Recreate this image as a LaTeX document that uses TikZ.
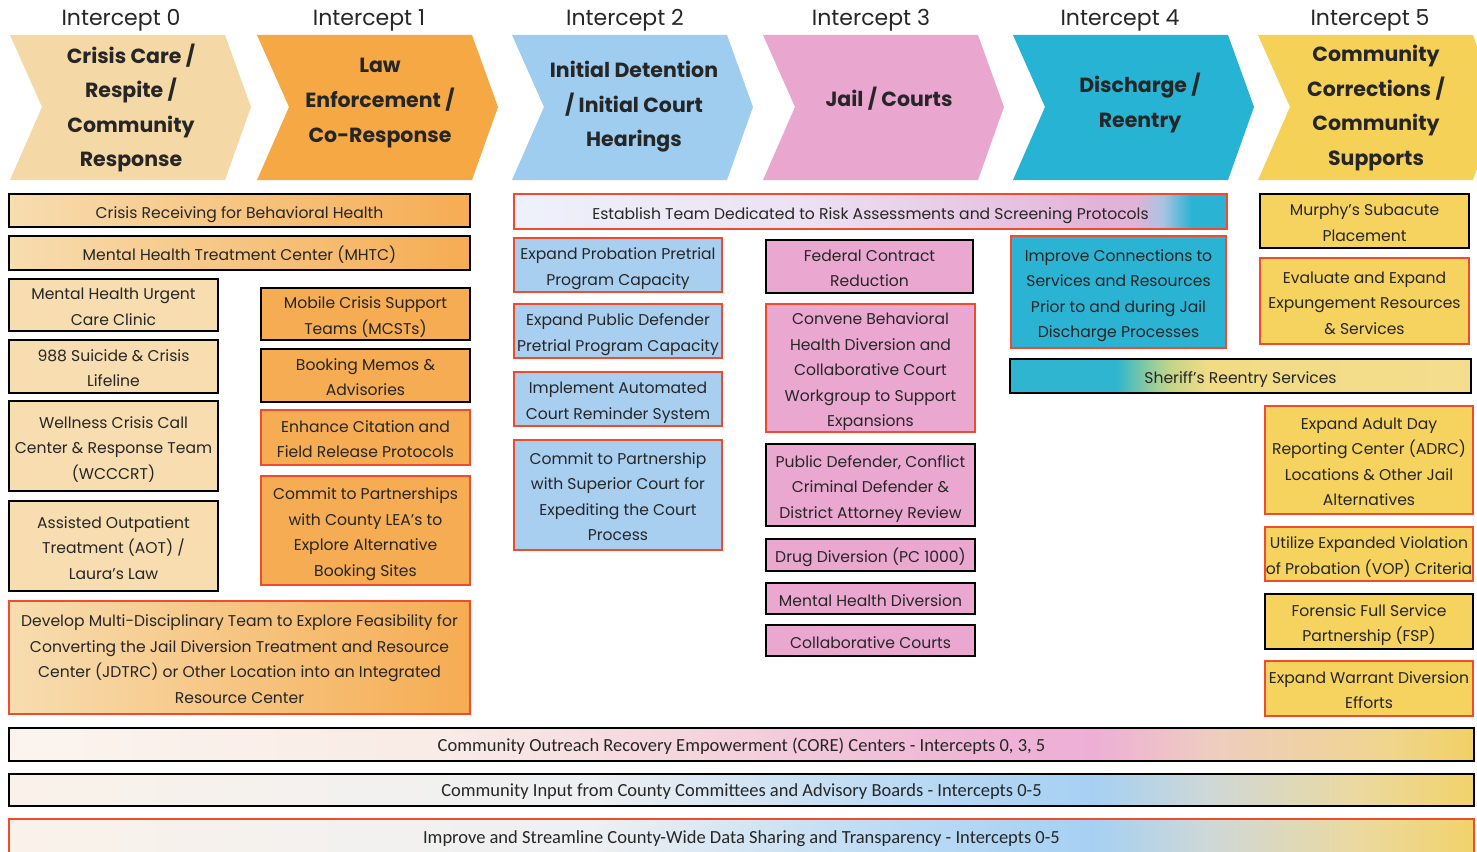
\documentclass[tikz,border=0pt]{standalone}
\usepackage{fontspec}
\setmainfont{Poppins}
\newfontfamily\barfont{Carlito}
\definecolor{txt}{HTML}{262626}
\definecolor{redB}{HTML}{EF4B2C}
\definecolor{tanF}{HTML}{F7DDB0}
\definecolor{orgF}{HTML}{F6AC52}
\definecolor{bluF}{HTML}{A8CFF0}
\definecolor{pnkF}{HTML}{EAA8D0}
\definecolor{tealF}{HTML}{2BB3D3}
\definecolor{ylwF}{HTML}{F5D35E}
\definecolor{ch0}{HTML}{F4D9A7}
\definecolor{ch1}{HTML}{F5A844}
\definecolor{ch2}{HTML}{9ECDF0}
\definecolor{ch3}{HTML}{E9A7CF}
\definecolor{ch4}{HTML}{27B3D4}
\definecolor{ch5}{HTML}{F5D257}
\definecolor{eA}{HTML}{EEF1FB}
\definecolor{eB}{HTML}{ECE2F3}
\definecolor{eC}{HTML}{E6C0E0}
\definecolor{eD}{HTML}{E3B2D8}
\definecolor{eE}{HTML}{A9C3E3}
\definecolor{sA}{HTML}{2FB5CF}
\definecolor{sB}{HTML}{8CCB9E}
\definecolor{sC}{HTML}{C4D588}
\definecolor{sD}{HTML}{F1DC84}
\definecolor{sE}{HTML}{F4DD8E}
\definecolor{kA}{HTML}{FBF4EE}
\definecolor{kB}{HTML}{F9EBE6}
\definecolor{kC}{HTML}{F4D0DC}
\definecolor{kD}{HTML}{EFB4D6}
\definecolor{kE}{HTML}{EDAFD6}
\definecolor{kF}{HTML}{EECDC0}
\definecolor{kG}{HTML}{F0D58E}
\definecolor{kH}{HTML}{F1D064}
\definecolor{bA}{HTML}{FAF2EA}
\definecolor{bB}{HTML}{EEF0F2}
\definecolor{bC}{HTML}{BCDBF4}
\definecolor{bD}{HTML}{A6D0F3}
\definecolor{bE}{HTML}{CFD8D6}
\definecolor{bF}{HTML}{EBD9A0}
\definecolor{bG}{HTML}{F2D26A}
\pgfdeclarehorizontalshading{estab}{100bp}{color(0bp)=(eA); color(25bp)=(eA); color(45bp)=(eB); color(61bp)=(eC); color(66bp)=(eD); color(68.5bp)=(eD); color(70.5bp)=(eE); color(72.5bp)=(tealF); color(75bp)=(tealF); color(100bp)=(tealF)}
\pgfdeclarehorizontalshading{sheriffsh}{100bp}{color(0bp)=(sA); color(25bp)=(sA); color(36.5bp)=(sA); color(40bp)=(sB); color(42.5bp)=(sC); color(46.5bp)=(sD); color(75bp)=(sE); color(100bp)=(sE)}
\pgfdeclarehorizontalshading{coresh}{100bp}{color(0bp)=(kA); color(25bp)=(kA); color(40bp)=(kB); color(50bp)=(kC); color(58bp)=(kD); color(62bp)=(kE); color(66bp)=(kF); color(72bp)=(kG); color(75bp)=(kH); color(100bp)=(kH)}
\pgfdeclarehorizontalshading{inputsh}{100bp}{color(0bp)=(bA); color(25bp)=(bA); color(45bp)=(bB); color(55bp)=(bC); color(62bp)=(bD); color(66bp)=(bE); color(71bp)=(bF); color(75bp)=(bG); color(100bp)=(bG)}
\tikzset{
  box/.style={draw, line width=2.6pt, inner sep=0pt, text=txt,
    font=\fontsize{15.6}{25.5}\selectfont},
  blk/.style={draw=black},
  red/.style={draw=redB},
  gradTO/.style={left color=tanF, right color=orgF},
  bar/.style={font=\barfont\fontsize{18.5}{22}\selectfont},
  ilabel/.style={font=\fontsize{22}{26}\selectfont, text=txt},
  head/.style={font=\bfseries\fontsize{20.5}{34.6}\selectfont, align=center, text=txt},
}
\newcommand\bx[7]{\pgfmathsetmacro\mybw{#4-#2}\pgfmathsetmacro\mybh{#5-#3}%
  \node[box,#6,minimum width=\mybw pt,minimum height=\mybh pt] (#1) at ({(#2+#4)/2},{(#3+#5)/2}) {\raisebox{-2.5pt}[\height][\depth]{\begin{tabular}{@{}c@{}}#7\end{tabular}}};}
\newcommand\chev[2]{\fill[#2] (#1,35) -- ({#1+215},35) -- ({#1+241},107) -- ({#1+215},180) -- (#1,180) -- ({#1+32},107) -- cycle;}
\begin{document}
\begin{tikzpicture}[x=1pt,y=-1pt]
\useasboundingbox[fill=white] (0,0) rectangle (1477,851);
\begin{scope}
\clip (0,0) rectangle (1477,851);
% chevrons
\chev{10}{ch0}
\chev{257}{ch1}
\chev{512}{ch2}
\chev{763}{ch3}
\chev{1013}{ch4}
\chev{1258}{ch5}
\node[ilabel] (i0) at (121,20) {Intercept 0};
\node[ilabel] (i1) at (369,20) {Intercept 1};
\node[ilabel] (i2) at (625,20) {Intercept 2};
\node[ilabel] (i3) at (871,20) {Intercept 3};
\node[ilabel] (i4) at (1120,20) {Intercept 4};
\node[ilabel] (i5) at (1370,20) {Intercept 5};
\node[head] (h0) at (131,108) {Crisis Care /\\Respite /\\Community\\Response};
\node[head] (h1) at (380,103) {Law\\Enforcement /\\Co-Response};
\node[head] (h2) at (634,107) {Initial Detention\\/ Initial Court\\Hearings};
\node[head] (h3) at (889,99) {Jail / Courts};
\node[head] (h4) at (1140,103) {Discharge /\\Reentry};
\node[head] (h5) at (1376,108) {Community\\Corrections /\\Community\\Supports};
% Intercepts 0/1
\bx{crb}{9}{194}{470}{227}{blk,gradTO}{Crisis Receiving for Behavioral Health}
\bx{mhtc}{9}{236}{470}{270}{blk,gradTO}{Mental Health Treatment Center (MHTC)}
\bx{mhuc}{9}{279}{218}{331}{blk,fill=tanF}{Mental Health Urgent\\Care Clinic}
\bx{s988}{9}{340}{218}{393}{blk,fill=tanF}{988 Suicide \& Crisis\\Lifeline}
\bx{wccc}{9}{401}{218}{491}{blk,fill=tanF}{Wellness Crisis Call\\Center \& Response Team\\(WCCCRT)}
\bx{aot}{9}{501}{218}{591}{blk,fill=tanF}{Assisted Outpatient\\Treatment (AOT) /\\Laura's Law}
\bx{mcst}{261}{288}{470}{340}{blk,fill=orgF}{Mobile Crisis Support\\Teams (MCSTs)}
\bx{book}{261}{349}{470}{402}{blk,fill=orgF}{Booking Memos \&\\Advisories}
\bx{cite}{261}{410}{470}{465}{red,fill=orgF}{Enhance Citation and\\Field Release Protocols}
\bx{lea}{261}{476}{470}{585}{red,fill=orgF}{Commit to Partnerships\\with County LEA's to\\Explore Alternative\\Booking Sites}
\bx{mdt}{9}{601}{470}{714}{red,gradTO}{Develop Multi-Disciplinary Team to Explore Feasibility for\\Converting the Jail Diversion Treatment and Resource\\Center (JDTRC) or Other Location into an Integrated\\Resource Center}
% Intercept 2
\bx{risk}{514}{194}{1227}{229}{red,shade,shading=estab}{Establish Team Dedicated to Risk Assessments and Screening Protocols}
\bx{prob}{514}{238}{722}{292}{red,fill=bluF}{Expand Probation Pretrial\\Program Capacity}
\bx{pubd}{514}{304}{722}{358}{red,fill=bluF}{Expand Public Defender\\Pretrial Program Capacity}
\bx{remind}{514}{372}{722}{426}{red,fill=bluF}{Implement Automated\\Court Reminder System}
\bx{superior}{514}{440}{722}{550}{red,fill=bluF}{Commit to Partnership\\with Superior Court for\\Expediting the Court\\Process}
% Intercept 3
\bx{fed}{766}{240}{973}{293}{blk,fill=pnkF}{Federal Contract\\Reduction}
\bx{conv}{766}{304}{975}{432}{red,fill=pnkF}{Convene Behavioral\\Health Diversion and\\Collaborative Court\\Workgroup to Support\\Expansions}
\bx{pdcc}{766}{444}{975}{526}{blk,fill=pnkF}{Public Defender, Conflict\\Criminal Defender \&\\District Attorney Review}
\bx{drug}{766}{539}{975}{571}{blk,fill=pnkF}{Drug Diversion (PC 1000)}
\bx{mhd}{766}{583}{975}{614}{blk,fill=pnkF}{Mental Health Diversion}
\bx{collab}{766}{625}{975}{656}{blk,fill=pnkF}{Collaborative Courts}
% Intercept 4
\bx{conn}{1011}{236}{1226}{348}{red,fill=tealF}{Improve Connections to\\Services and Resources\\Prior to and during Jail\\Discharge Processes}
\bx{sheriff}{1010}{359}{1471}{393}{blk,shade,shading=sheriffsh}{Sheriff's Reentry Services}
% Intercept 5
\bx{murphy}{1260}{194}{1469}{248}{blk,fill=ylwF}{Murphy's Subacute\\Placement}
\bx{expung}{1260}{258}{1469}{344}{red,fill=ylwF}{Evaluate and Expand\\Expungement Resources\\\& Services}
\bx{adrc}{1265}{406}{1473}{514}{red,fill=ylwF}{Expand Adult Day\\Reporting Center (ADRC)\\Locations \& Other Jail\\Alternatives}
\bx{vop}{1265}{527}{1473}{581}{red,fill=ylwF}{Utilize Expanded Violation\\of Probation (VOP) Criteria}
\bx{fsp}{1265}{594}{1473}{649}{blk,fill=ylwF}{Forensic Full Service\\Partnership (FSP)}
\bx{warrant}{1265}{661}{1473}{716}{red,fill=ylwF}{Expand Warrant Diversion\\Efforts}
% bottom bars
\bx{core}{9}{728}{1474}{761}{blk,shade,shading=coresh,bar}{Community Outreach Recovery Empowerment (CORE) Centers - Intercepts 0, 3, 5}
\bx{input}{9}{774}{1474}{806}{blk,shade,shading=inputsh,bar}{Community Input from County Committees and Advisory Boards - Intercepts 0-5}
\bx{data}{9}{819}{1474}{855}{red,shade,shading=inputsh,bar}{Improve and Streamline County-Wide Data Sharing and Transparency - Intercepts 0-5}
\end{scope}
\end{tikzpicture}
\end{document}
